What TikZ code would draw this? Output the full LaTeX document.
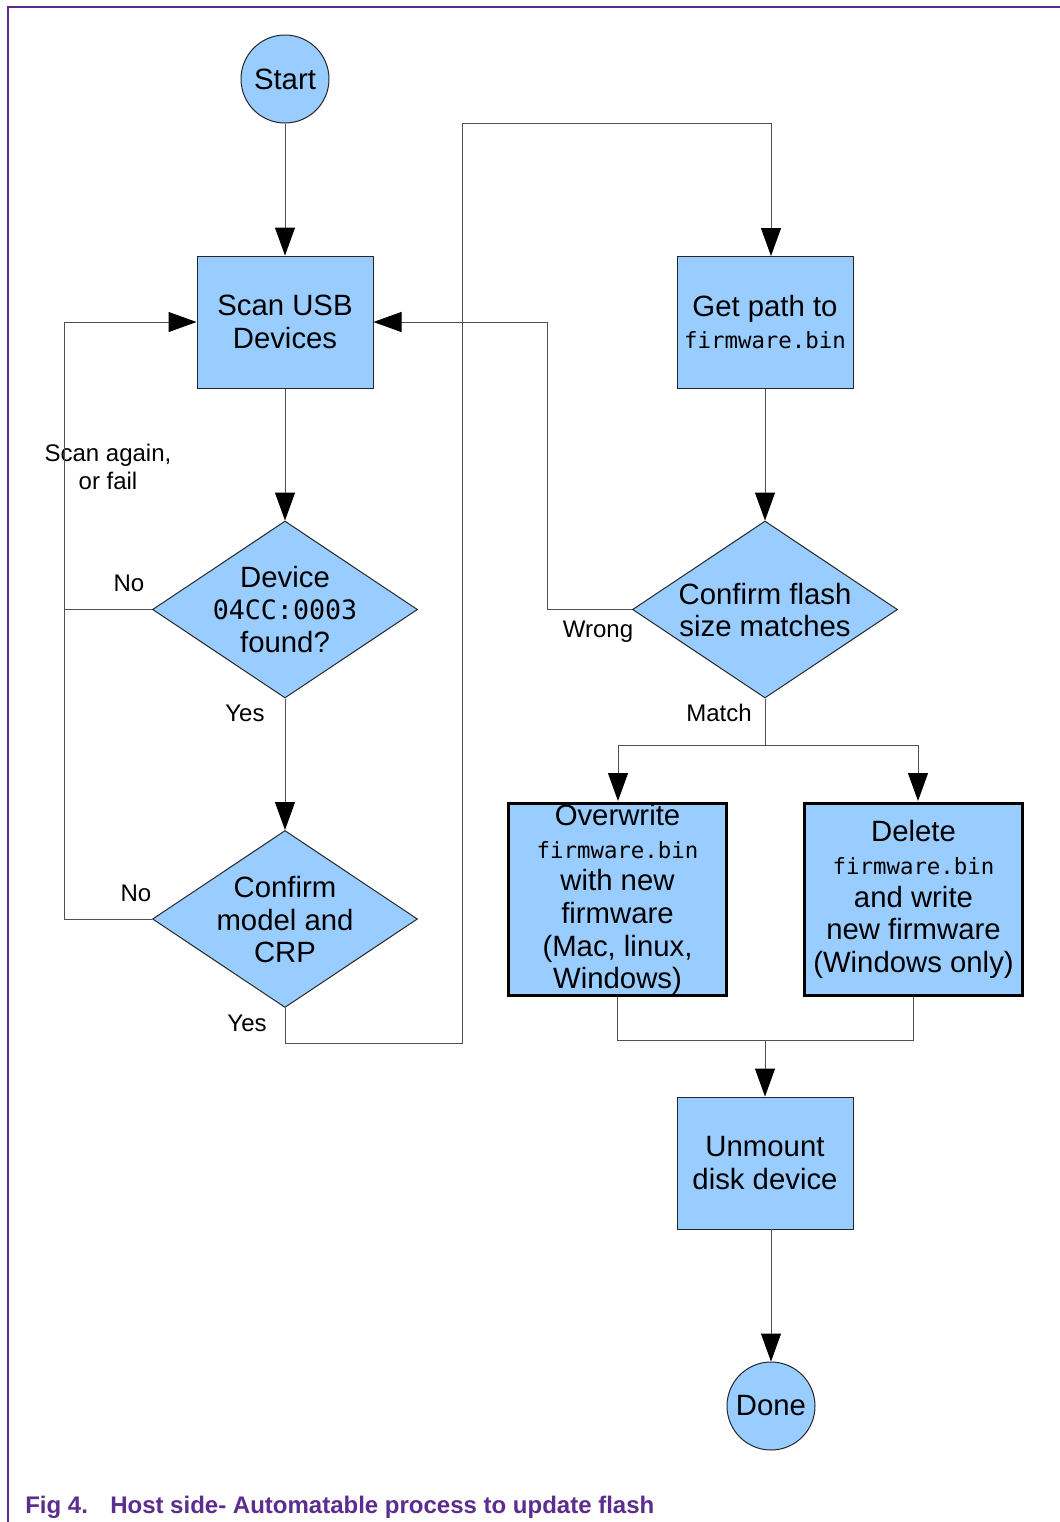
\documentclass[tikz,border=0pt]{standalone}
\usepackage{fontspec}
\setmainfont{Liberation Sans}
\newfontfamily\monof{DejaVu Sans Mono}
\usetikzlibrary{shapes.geometric,arrows.meta}
\definecolor{boxblue}{HTML}{99CCFF}
\definecolor{nxp}{HTML}{5B2D8E}
\definecolor{linec}{HTML}{505050}
\newcommand{\fwbin}{{\monof\fontsize{16.8}{24.5}\selectfont firmware.bin}}
\begin{document}
\begin{tikzpicture}[x=0.75pt,y=-0.75pt,
 every node/.style={font=\fontsize{22}{24.5}\selectfont, align=center, inner sep=0pt},
 stepbox/.style={draw=black!85, fill=boxblue, line width=0.75pt, minimum width=132pt, minimum height=99pt},
 thickbox/.style={draw=black, fill=boxblue, line width=2.4pt, minimum width=164pt, minimum height=144.5pt},
 term/.style={circle, draw=black!85, fill=boxblue, line width=0.75pt, minimum size=66pt},
 decis/.style={diamond, draw=black!85, fill=boxblue, line width=0.75pt, minimum width=198.75pt, minimum height=132.75pt},
 conn/.style={draw=linec, line width=0.75pt},
 arr/.style={conn, -{Triangle[length=21pt,width=15pt,color=black]}},
 lbl/.style={font=\fontsize{18}{21}\selectfont},
 captxt/.style={font=\fontsize{18}{21}\selectfont\bfseries, text=nxp, anchor=base west}
]
\useasboundingbox (0,0) rectangle (1060,1522);
\fill[white] (0,0) rectangle (1060,1522);
\draw[nxp, line width=1.5pt] (8,1522) -- (8,7) -- (1060,7);

% nodes
\node[term] (start) at (285,79) {Start};
\node[stepbox] (scan) at (285,322) {Scan USB\\Devices};
\node[decis] (d1) at (285,609.5) {};
\node (d1t) at (285,609.5) {Device\\{\monof\fontsize{20}{24.5}\selectfont 04CC:0003}\\found?};
\node[decis] (d2) at (285,919) {};
\node (d2t) at (285,919.5) {Confirm\\model and\\CRP};
\node[stepbox] (gp) at (765,322) {Get path to\\\fwbin};
\node[decis] (d3) at (765,609.5) {};
\node (d3t) at (765,610) {Confirm flash\\size matches};
\node[thickbox] (ow) at (617.5,899.5) {Overwrite\\\fwbin\\with new\\firmware\\(Mac, linux,\\Windows)};
\node[thickbox] (dl) at (913.5,899.5) {Delete\\\fwbin\\and write\\new firmware\\(Windows only)};
\node[stepbox] (um) at (765,1163) {Unmount\\disk device};
\node[term] (done) at (771,1406) {Done};

% labels
\node[lbl] (lscan) at (108,467) {Scan again,\\or fail};
\node[lbl] (lno1) at (129,583) {No};
\node[lbl] (lyes1) at (245,713) {Yes};
\node[lbl] (lno2) at (136,893) {No};
\node[lbl] (lyes2) at (247,1023) {Yes};
\node[lbl] (lwrong) at (598,632) {Wrong};
\node[lbl] (lmatch) at (719,713) {Match};

% caption
\node[captxt] (cap1) at (25,1513) {Fig 4.};
\node[captxt] (cap2) at (110,1513) {Host side- Automatable process to update flash};

% coordinates
\coordinate (lc1) at (64,609.5);
\coordinate (lc2) at (64,919);
\coordinate (lc3) at (64,322);
\coordinate (y1) at (285,1043);
\coordinate (y2) at (462,1043);
\coordinate (y3) at (462,123);
\coordinate (y4) at (771,123);
\coordinate (gpin) at (771,256);
\coordinate (w1) at (547,609.5);
\coordinate (w2) at (547,322);
\coordinate (mt) at (765,745);
\coordinate (mtl) at (618,745);
\coordinate (mtr) at (918,745);
\coordinate (owin) at (618,801);
\coordinate (dlin) at (918,801);
\coordinate (jm) at (765,1040);
\coordinate (umout) at (771,1229);

% connectors
\draw[arr] (start) -- (scan);
\draw[arr] (scan) -- (d1.north);
\draw[arr] (d1.south) -- (d2.north);
\draw[conn] (d1.west) -- (lc1);
\draw[arr] (d2.west) -- (lc2) -- (lc3) -- (scan.west);
\draw[arr] (d2.south) -- (y1) -- (y2) -- (y3) -- (y4) -- (gpin);
\draw[arr] (gp.south) -- (d3.north);
\draw[arr] (d3.west) -- (w1) -- (w2) -- (scan.east);
\draw[conn] (d3.south) -- (mt);
\draw[arr] (mt) -- (mtl) -- (owin);
\draw[arr] (mt) -- (mtr) -- (dlin);
\draw[conn] (ow.south) |- (jm) -| (dl.south);
\draw[arr] (jm) -- (um.north);
\draw[arr] (umout) -- (done.north);
\end{tikzpicture}
\end{document}
